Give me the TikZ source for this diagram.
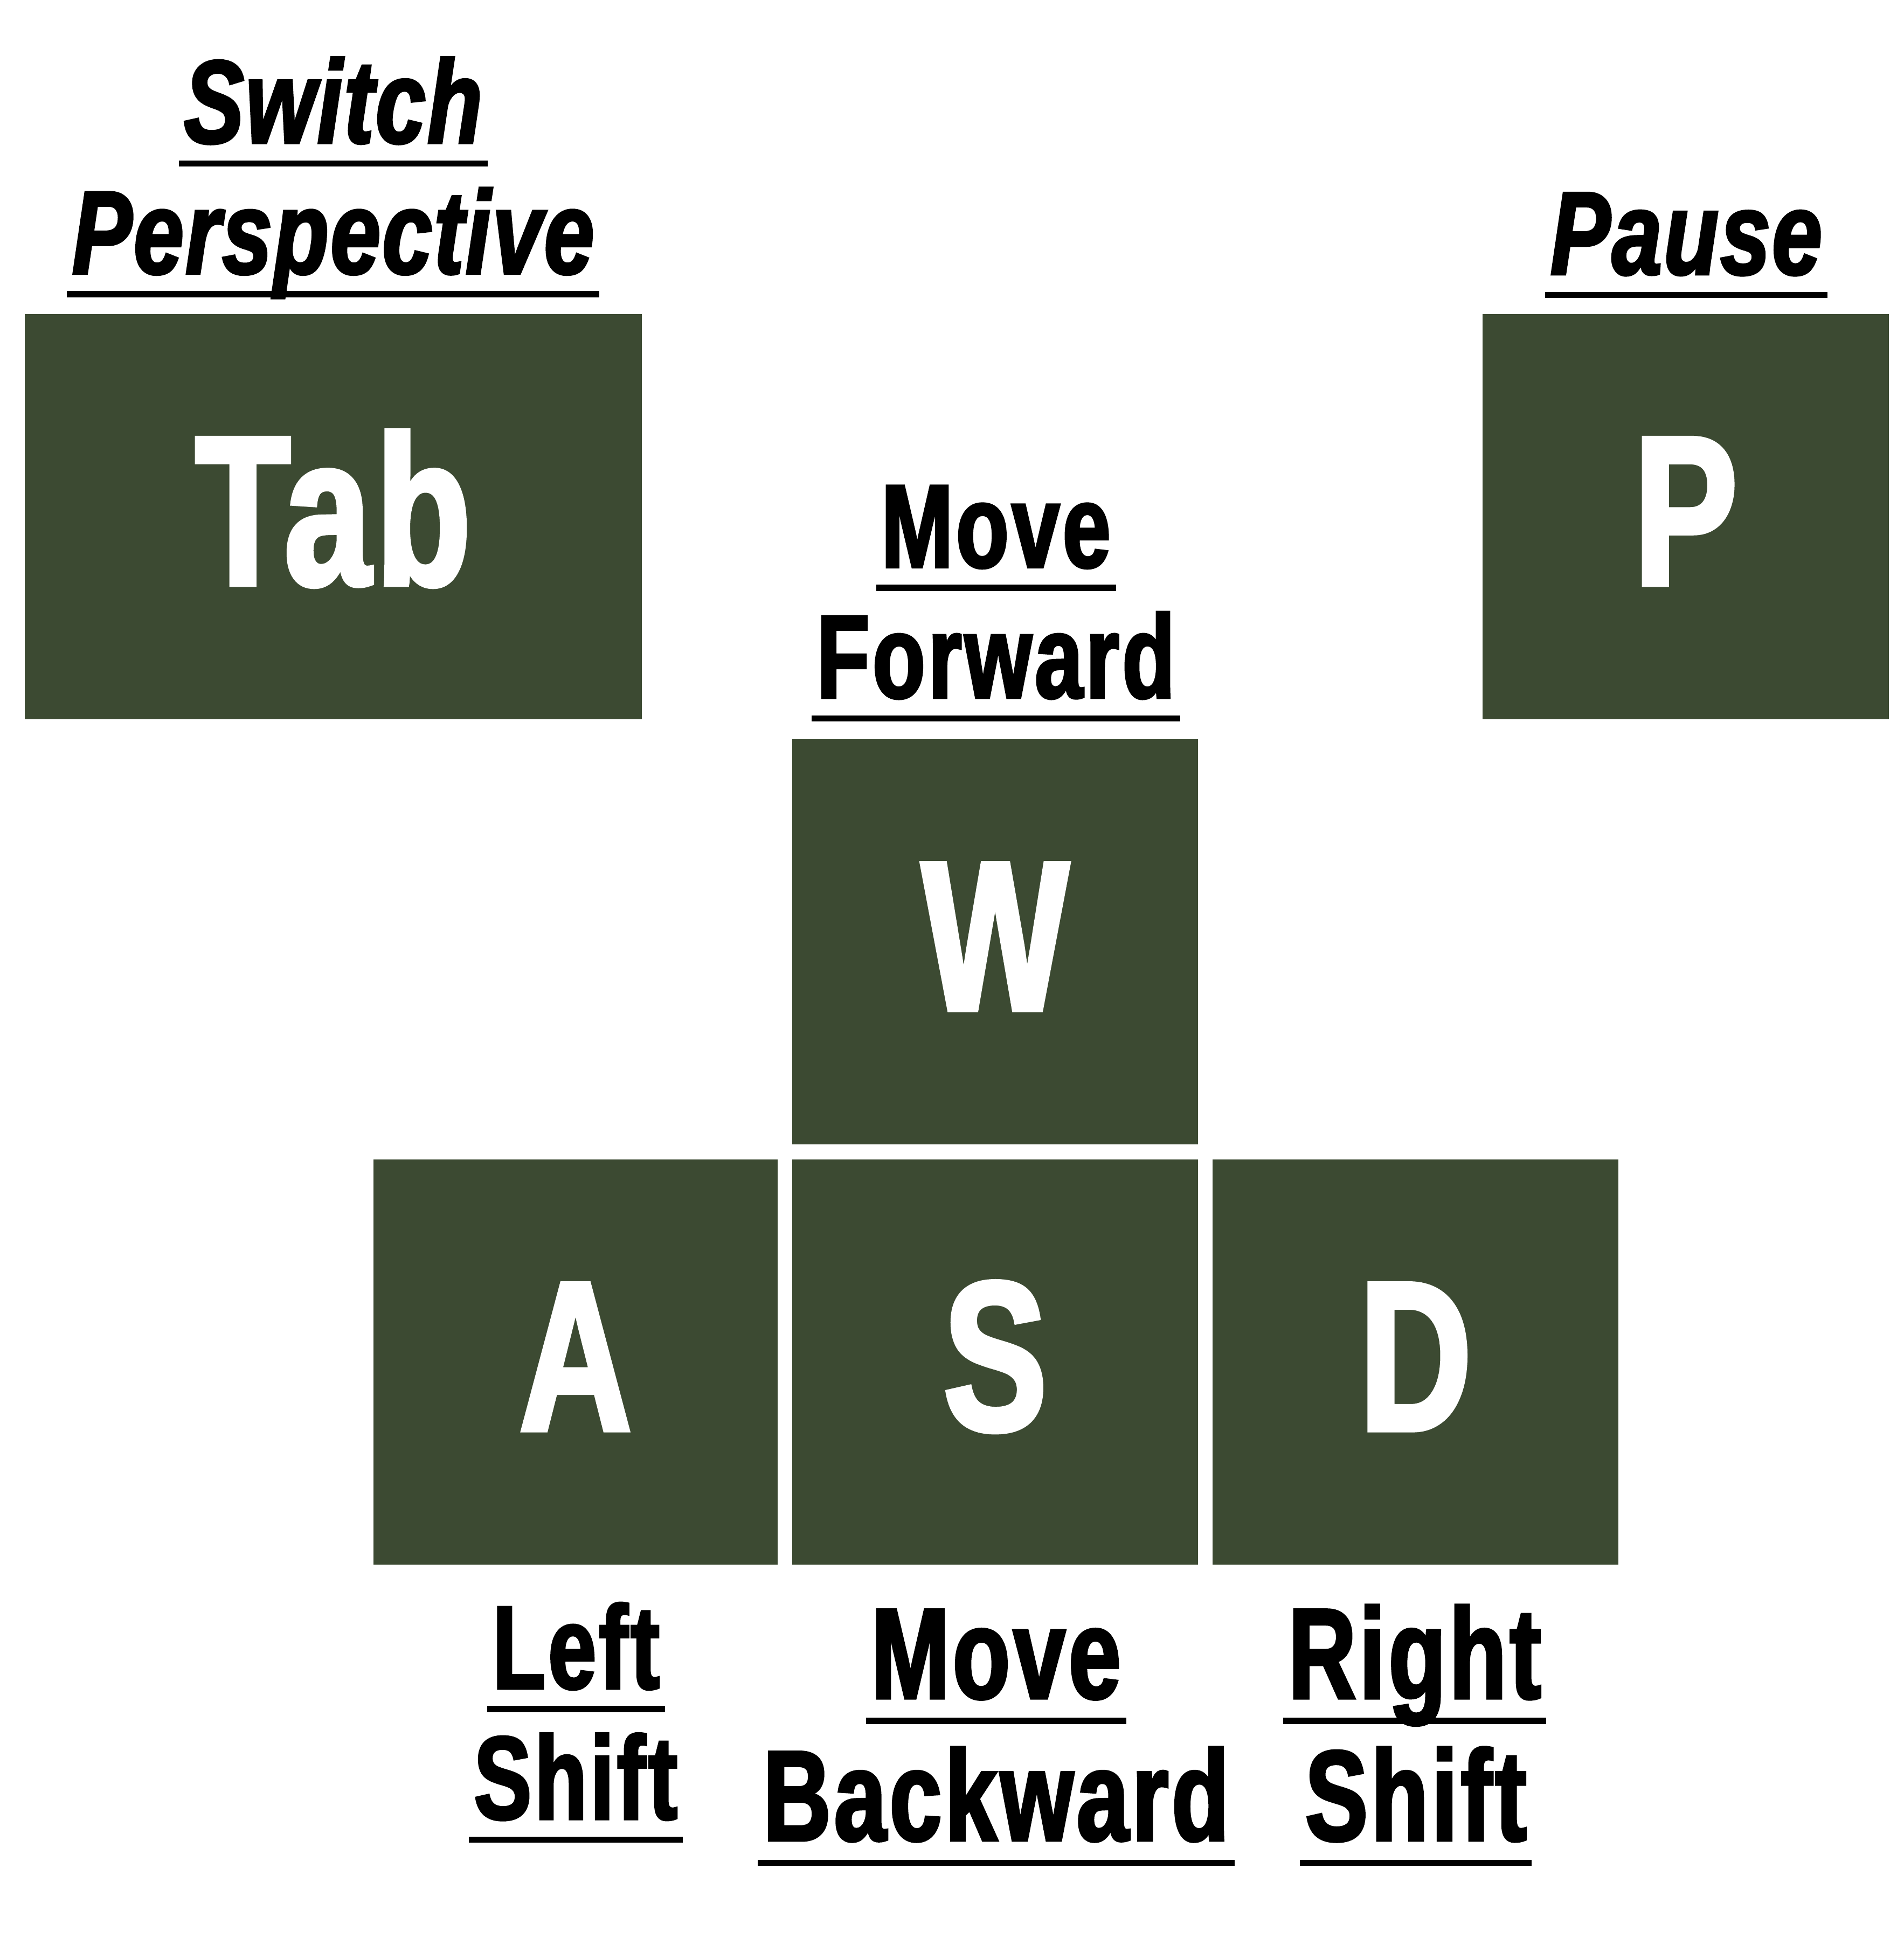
\documentclass[tikz,border=0pt]{standalone}
\usepackage{fontspec}
\newfontfamily\keyfont{Liberation Sans}[FakeStretch=0.73,FakeBold=2.2,LetterSpace=2.5]
\newfontfamily\slantfont{Liberation Sans}[FakeStretch=0.76,FakeBold=2.2,LetterSpace=1.5]
\definecolor{keygreen}{RGB}{60,74,50}

\begin{document}
\begin{tikzpicture}[x=0.1mm, y=-0.1mm,
  keycap/.style={fill=keygreen, text=white, inner sep=0pt, minimum height=3.28cm,
    text height=1.26cm, text depth=0.16cm, font=\keyfont\bfseries\fontsize{49}{49}\selectfont},
  uline/.style={append after command={(\tikzlastnode.south west) edge[draw=black, line width=0.5mm] (\tikzlastnode.south east)}},
  lbl/.style={anchor=base, inner xsep=1pt, inner ysep=1.6mm, text depth=0pt,
    font=\keyfont\bfseries\fontsize{27.2}{28}\selectfont, uline},
  lblbig/.style={lbl, inner ysep=1.75mm, font=\keyfont\bfseries\fontsize{29.6}{31}\selectfont},
  lblslant/.style={lbl, font=\slantfont\bfseries\itshape\fontsize{27.2}{28}\selectfont}]
  \path[fill=white] (0,0) rectangle (1540,1568);
  % keys
  \node[keycap, minimum width=4.99cm] (tab) at (269.5,418) {Tab};
  \node[keycap, minimum width=3.29cm] (p)   at (1363.5,418) {P};
  \node[keycap, minimum width=3.28cm] (w)   at (805,762) {W};
  \node[keycap, minimum width=3.27cm] (a)   at (465.5,1102) {A};
  \node[keycap, minimum width=3.28cm] (s)   at (805,1102) {S};
  \node[keycap, minimum width=3.28cm] (d)   at (1145,1102) {D};
  % labels above
  \node[lblslant] (sw1) at (269.5,115.6) {Switch};
  \node[lblslant] (sw2) at (269.5,221.3) {Perspective};
  \node[lblslant] (ps)  at (1364,221.9)  {Pause};
  \node[lbl] (mf1) at (805.6,458.9) {Move};
  \node[lbl] (mf2) at (805.6,564.5) {Forward};
  % labels below
  \node[lbl] (ls1) at (466,1366.1)   {Left};
  \node[lbl] (ls2) at (465.7,1471.7) {Shift};
  \node[lblbig] (mb1) at (805.7,1374) {Move};
  \node[lblbig] (mb2) at (805.8,1489) {Backward};
  \node[lblbig] (rs1) at (1144.3,1374) {Right};
  \node[lblbig] (rs2) at (1145.3,1489) {Shift};
\end{tikzpicture}
\end{document}
